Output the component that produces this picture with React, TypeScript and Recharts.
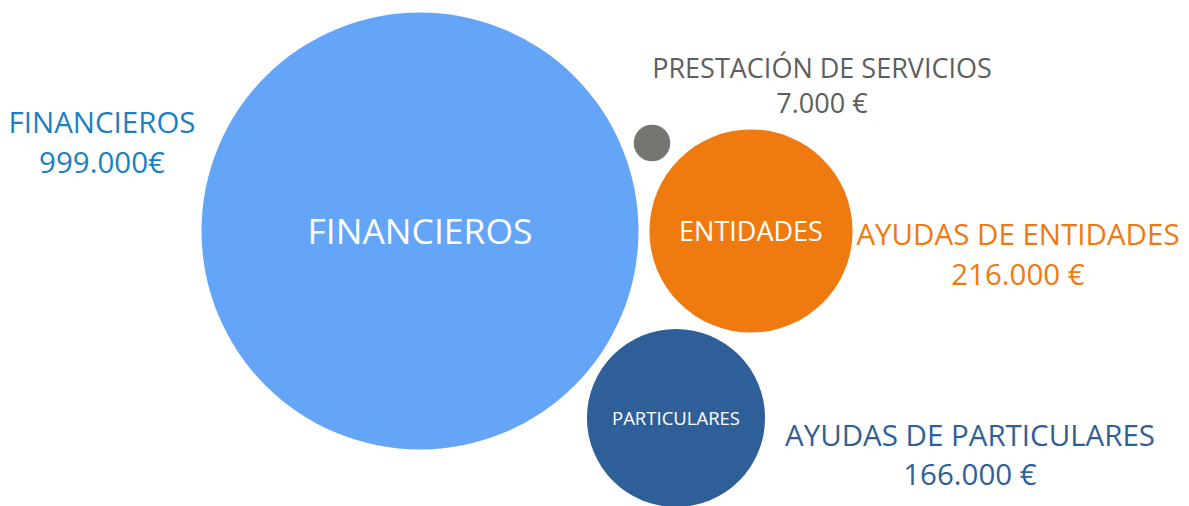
import React from 'react';
import { ScatterChart, Scatter, XAxis, YAxis, ZAxis, Cell } from 'recharts';

// bubble data
const categories = ['FINANCIEROS', 'PRESTACIÓN DE SERVICIOS', 'AYUDAS DE ENTIDADES', 'AYUDAS DE PARTICULARES'];
const innerLabels = ['FINANCIEROS', '', 'ENTIDADES', 'PARTICULARES'];
const amounts = [999000, 7000, 216000, 166000];
const amountLabels = ['999.000€', '7.000 €', '216.000 €', '166.000 €'];
// bubble placement in layout units (x: 0-1189, y: 0-506 top-down)
const posX = [420, 652, 751, 676];
const posY = [231, 143, 231, 418];

const FILLS = ['#64A5F8', '#75756F', '#EF7A10', '#2F5F98'];
const TEXT_COLORS = ['#1A80C1', '#5E5E5E', '#EF7A10', '#2F5F98'];
const INNER_SIZES = [35.5, 0, 27, 18.5];
const OUTER_SIZES = [29.5, 27, 29.5, 29.5];
// outer label offsets from bubble center: [dx, baseline line 1, baseline line 2]
const LABEL_OFFSETS = [
  [-318, -98, -58],
  [170, -65, -30],
  [267, 14, 54],
  [294, 28, 67],
];

const MAX_RADIUS = 218.5;
const FONT = '"Open Sans", sans-serif';

const data = categories.map((name, i) => ({
  name,
  x: posX[i],
  y: posY[i],
  z: amounts[i],
  idx: i,
}));

const Bubble = (props: any) => {
  const { cx, cy, payload, size } = props;
  const i = payload.idx;
  const r = props.width ? props.width / 2 : Math.sqrt(size / Math.PI);
  const [dx, b1, b2] = LABEL_OFFSETS[i];
  const color = TEXT_COLORS[i];
  return (
    <g>
      <circle cx={cx} cy={cy} r={r} fill={FILLS[i]} />
      {innerLabels[i] && (
        <text x={cx} y={cy} dy="0.36em" textAnchor="middle" fill="#fff" fontSize={INNER_SIZES[i]} fontFamily={FONT}>
          {innerLabels[i]}
        </text>
      )}
      <text x={cx + dx} y={cy + b1} textAnchor="middle" fill={color} fontSize={OUTER_SIZES[i]} fontFamily={FONT}>
        {i === 0 ? 'FINANCIEROS' : categories[i]}
      </text>
      <text x={cx + dx} y={cy + b2} textAnchor="middle" fill={color} fontSize={OUTER_SIZES[i]} fontFamily={FONT}>
        {amountLabels[i]}
      </text>
    </g>
  );
};

export default function App() {
  return (
    <div style={{ position: 'absolute', left: 0, top: 0, background: '#fff' }}>
      <ScatterChart width={1189} height={506} margin={{ top: 0, right: 0, bottom: 0, left: 0 }}>
        <XAxis type="number" dataKey="x" domain={[0, 1189]} hide />
        <YAxis type="number" dataKey="y" domain={[0, 506]} reversed hide />
        <ZAxis type="number" dataKey="z" domain={[0, 999000]} range={[0, Math.PI * MAX_RADIUS * MAX_RADIUS]} />
        <Scatter data={data} shape={<Bubble />} isAnimationActive={false}>
          {data.map((d) => (
            <Cell key={d.name} fill={FILLS[d.idx]} />
          ))}
        </Scatter>
      </ScatterChart>
    </div>
  );
}
